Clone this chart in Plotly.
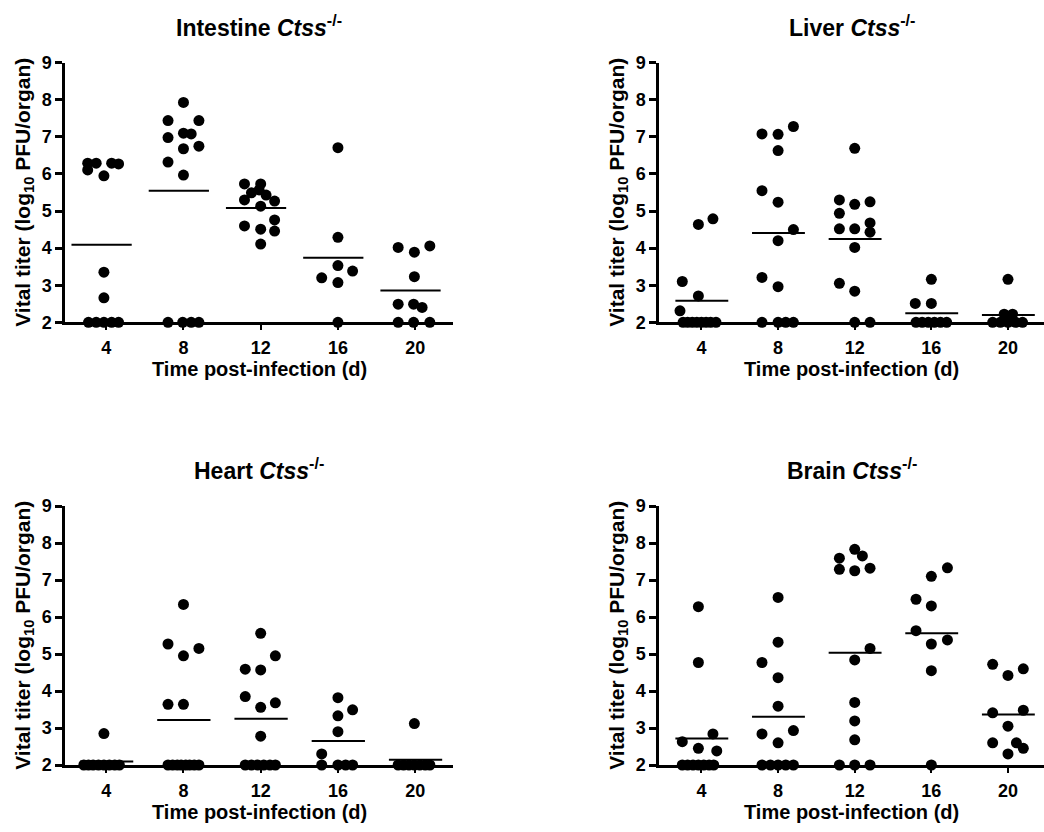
import plotly.graph_objects as go
import numpy as np

# ---------------- data ----------------
days = ["4", "8", "12", "16", "20"]

intestine_values = [
    [6.29, 6.29, 6.11, 5.95, 6.29, 6.27, 3.35, 2.66, 2, 2, 2, 2, 2],
    [7.93, 7.44, 7.44, 6.98, 7.10, 7.08, 6.75, 6.68, 6.32, 5.97, 2, 2, 2, 2],
    [5.73, 5.73, 5.30, 5.49, 5.57, 5.43, 5.27, 5.13, 4.60, 4.51, 4.76, 4.46, 4.11],
    [6.71, 4.29, 3.53, 3.20, 3.38, 3.07, 2],
    [4.02, 3.89, 4.06, 3.23, 2.49, 2.49, 2.40, 2, 2, 2],
]
intestine_jitter = [
    [-0.24, -0.13, -0.24, -0.03, 0.07, 0.16, -0.03, -0.03, -0.23, -0.13, -0.03, 0.07, 0.16],
    [0.0, -0.2, 0.2, -0.2, 0.0, 0.1, 0.2, 0.0, -0.2, 0.0, -0.2, -0.01, 0.1, 0.2],
    [-0.21, 0.0, -0.21, -0.12, -0.02, 0.07, 0.18, 0.0, -0.21, 0.0, 0.18, 0.18, 0.0],
    [0.0, 0.0, 0.0, -0.21, 0.19, 0.0, 0.0],
    [-0.22, -0.01, 0.19, -0.01, -0.22, -0.02, 0.09, -0.22, -0.02, 0.19],
]

liver_values = [
    [4.64, 4.79, 3.10, 2.71, 2.31, 2, 2, 2, 2, 2, 2, 2, 2],
    [7.08, 7.07, 7.28, 6.63, 5.55, 5.24, 4.50, 4.20, 3.21, 2.96, 2, 2, 2, 2],
    [6.69, 5.30, 5.18, 5.25, 4.94, 4.68, 4.52, 4.52, 4.43, 4.02, 3.05, 2.84, 2, 2],
    [3.16, 2.51, 2.51, 2, 2, 2, 2, 2, 2],
    [3.16, 2.22, 2.22, 2, 2, 2, 2, 2],
]
liver_jitter = [
    [-0.04, 0.15, -0.25, -0.04, -0.28, -0.24, -0.18, -0.12, -0.06, 0.0, 0.06, 0.12, 0.19],
    [-0.21, 0.0, 0.2, 0.0, -0.21, 0.0, 0.2, 0.0, -0.21, 0.0, -0.21, 0.0, 0.1, 0.2],
    [0.0, -0.2, 0.0, 0.2, -0.2, 0.2, -0.2, 0.0, 0.2, 0.0, -0.2, 0.0, 0.0, 0.2],
    [0.0, -0.21, 0.0, -0.2, -0.12, -0.04, 0.04, 0.12, 0.2],
    [0.0, -0.05, 0.06, -0.2, -0.1, 0.0, 0.1, 0.19],
]

heart_values = [
    [2.85, 2, 2, 2, 2, 2, 2, 2, 2],
    [6.34, 5.27, 5.15, 4.95, 3.64, 3.64, 2, 2, 2, 2, 2, 2, 2, 2],
    [5.56, 4.59, 4.57, 4.95, 3.85, 3.56, 3.68, 2.78, 2, 2, 2, 2, 2, 2],
    [3.82, 3.49, 3.33, 2.90, 2.30, 2, 2, 2, 2],
    [3.12, 2, 2, 2, 2, 2, 2, 2],
]
heart_jitter = [
    [-0.03, -0.29, -0.23, -0.17, -0.1, -0.03, 0.04, 0.11, 0.17],
    [0.0, -0.2, 0.2, 0.0, -0.2, 0.0, -0.2, -0.14, -0.08, -0.03, 0.03, 0.08, 0.14, 0.2],
    [0.0, -0.2, 0.0, 0.19, -0.2, 0.0, 0.19, 0.0, -0.2, -0.12, -0.04, 0.04, 0.12, 0.19],
    [0.0, 0.19, 0.0, 0.0, -0.21, -0.21, 0.0, 0.1, 0.19],
    [-0.01, -0.22, -0.15, -0.08, -0.01, 0.06, 0.13, 0.19],
]

brain_values = [
    [6.28, 4.77, 2.84, 2.63, 2.45, 2.38, 2, 2, 2, 2, 2, 2, 2],
    [6.53, 5.32, 4.77, 4.36, 3.59, 2.84, 2.93, 2.60, 2, 2, 2, 2, 2],
    [7.83, 7.59, 7.65, 7.29, 7.25, 7.32, 5.15, 4.84, 3.69, 3.19, 2.68, 2, 2, 2],
    [7.33, 7.10, 6.48, 6.30, 5.63, 5.38, 5.27, 4.55, 2],
    [4.72, 4.42, 4.60, 3.41, 3.48, 3.05, 2.60, 2.60, 2.45, 2.30],
]
brain_jitter = [
    [-0.04, -0.04, 0.15, -0.25, -0.04, 0.2, -0.25, -0.18, -0.11, -0.04, 0.03, 0.1, 0.16],
    [0.0, 0.0, -0.21, 0.0, 0.0, -0.21, 0.2, 0.0, -0.21, -0.1, 0.0, 0.1, 0.2],
    [0.0, -0.2, 0.1, -0.2, 0.0, 0.2, 0.2, 0.0, 0.0, 0.0, 0.0, -0.2, 0.0, 0.2],
    [0.21, 0.0, -0.2, 0.0, -0.2, 0.21, 0.0, 0.0, 0.0],
    [-0.2, 0.0, 0.2, -0.2, 0.2, 0.0, -0.2, 0.11, 0.2, 0.0],
]

y_ticks = [2, 3, 4, 5, 6, 7, 8, 9]

# ---------------- layout helpers ----------------
W, H = 1044, 832
FONT = "Liberation Sans, Arial, sans-serif"

panels = [
    # organ, values, jitter, x px (left,right), y px (top,bottom), x range, mean span
    ("Intestine", intestine_values, intestine_jitter, (65.3, 453), (62.7, 322.3), (-0.53, 4.49), (-0.45, 0.33)),
    ("Liver", liver_values, liver_jitter, (659.3, 1044), (62.7, 322.3), (-0.55, 4.47), (-0.34, 0.35)),
    ("Heart", heart_values, heart_jitter, (65.3, 453), (506, 765), (-0.53, 4.49), (-0.34, 0.35)),
    ("Brain", brain_values, brain_jitter, (659.3, 1044), (506, 765), (-0.55, 4.47), (-0.34, 0.35)),
]

fig = go.Figure()
annotations = []

for k, (organ, vals, jit, xpx, ypx, xr, span) in enumerate(panels, start=1):
    xa = "x" if k == 1 else f"x{k}"
    ya = "y" if k == 1 else f"y{k}"

    # dots
    xs, ys = [], []
    for i, (gv, gj) in enumerate(zip(vals, jit)):
        for v, o in zip(gv, gj):
            xs.append(i + o)
            ys.append(v)
    fig.add_trace(go.Scatter(
        x=xs, y=ys, mode="markers", xaxis=xa, yaxis=ya,
        marker=dict(color="black", size=11, line=dict(width=0)),
        cliponaxis=False, showlegend=False, hoverinfo="y"))

    # mean lines
    mx, my = [], []
    for i, gv in enumerate(vals):
        m = float(np.mean(gv))
        mx += [i + span[0], i + span[1], None]
        my += [m, m, None]
    fig.add_trace(go.Scatter(
        x=mx, y=my, mode="lines", xaxis=xa, yaxis=ya,
        line=dict(color="black", width=2), cliponaxis=False,
        showlegend=False, hoverinfo="skip"))

    xdom = [xpx[0] / W, xpx[1] / W]
    ydom = [1 - ypx[1] / H, 1 - ypx[0] / H]
    xkey = "xaxis" if k == 1 else f"xaxis{k}"
    ykey = "yaxis" if k == 1 else f"yaxis{k}"
    fig.update_layout(**{
        xkey: dict(domain=xdom, anchor=ya, range=list(xr), automargin=False,
                   tickvals=list(range(len(days))),
                   ticktext=[f"<b>{d}</b>" for d in days],
                   showline=True, linecolor="black", linewidth=3,
                   ticks="outside", ticklen=5, tickwidth=2, tickcolor="black",
                   ticklabelstandoff=2,
                   showgrid=False, zeroline=False, fixedrange=True,
                   tickfont=dict(family=FONT, size=18, color="black")),
        ykey: dict(domain=ydom, anchor=xa, range=[2, 9], automargin=False,
                   tickvals=y_ticks, ticktext=[f"<b>{t}</b>" for t in y_ticks],
                   showline=True, linecolor="black", linewidth=3,
                   ticks="outside", ticklen=7, tickwidth=3, tickcolor="black",
                   showgrid=False, zeroline=False, fixedrange=True,
                   tickfont=dict(family=FONT, size=18, color="black")),
    })

    xc = (xpx[0] + xpx[1]) / 2
    yc = (ypx[0] + ypx[1]) / 2
    # panel title
    annotations.append(dict(
        text=f"<b>{organ} <i>Ctss</i><sup>-/-</sup></b>",
        x=xc / W, y=1 - (ypx[0] - 37) / H, xref="paper", yref="paper",
        xanchor="center", yanchor="middle", showarrow=False,
        font=dict(family=FONT, size=23, color="black")))
    # x-axis title
    annotations.append(dict(
        text="<b>Time post-infection (d)</b>",
        x=xc / W, y=1 - (ypx[1] + 47) / H, xref="paper", yref="paper",
        xanchor="center", yanchor="middle", showarrow=False,
        font=dict(family=FONT, size=20, color="black")))
    # y-axis title
    annotations.append(dict(
        text="<b>Vital titer (log<sub>10</sub> PFU/organ)</b>",
        x=(xpx[0] - 42) / W, y=1 - yc / H, xref="paper", yref="paper",
        xanchor="center", yanchor="middle", textangle=-90, showarrow=False,
        font=dict(family=FONT, size=21, color="black")))

fig.update_layout(
    width=W, height=H,
    margin=dict(l=0, r=0, t=0, b=0),
    paper_bgcolor="white", plot_bgcolor="white",
    annotations=annotations,
    showlegend=False,
)

fig.write_html(
    "out.html",
    config={"displayModeBar": False, "staticPlot": True},
    post_script="document.body.style.margin='0';document.body.style.overflow='hidden';",
)
